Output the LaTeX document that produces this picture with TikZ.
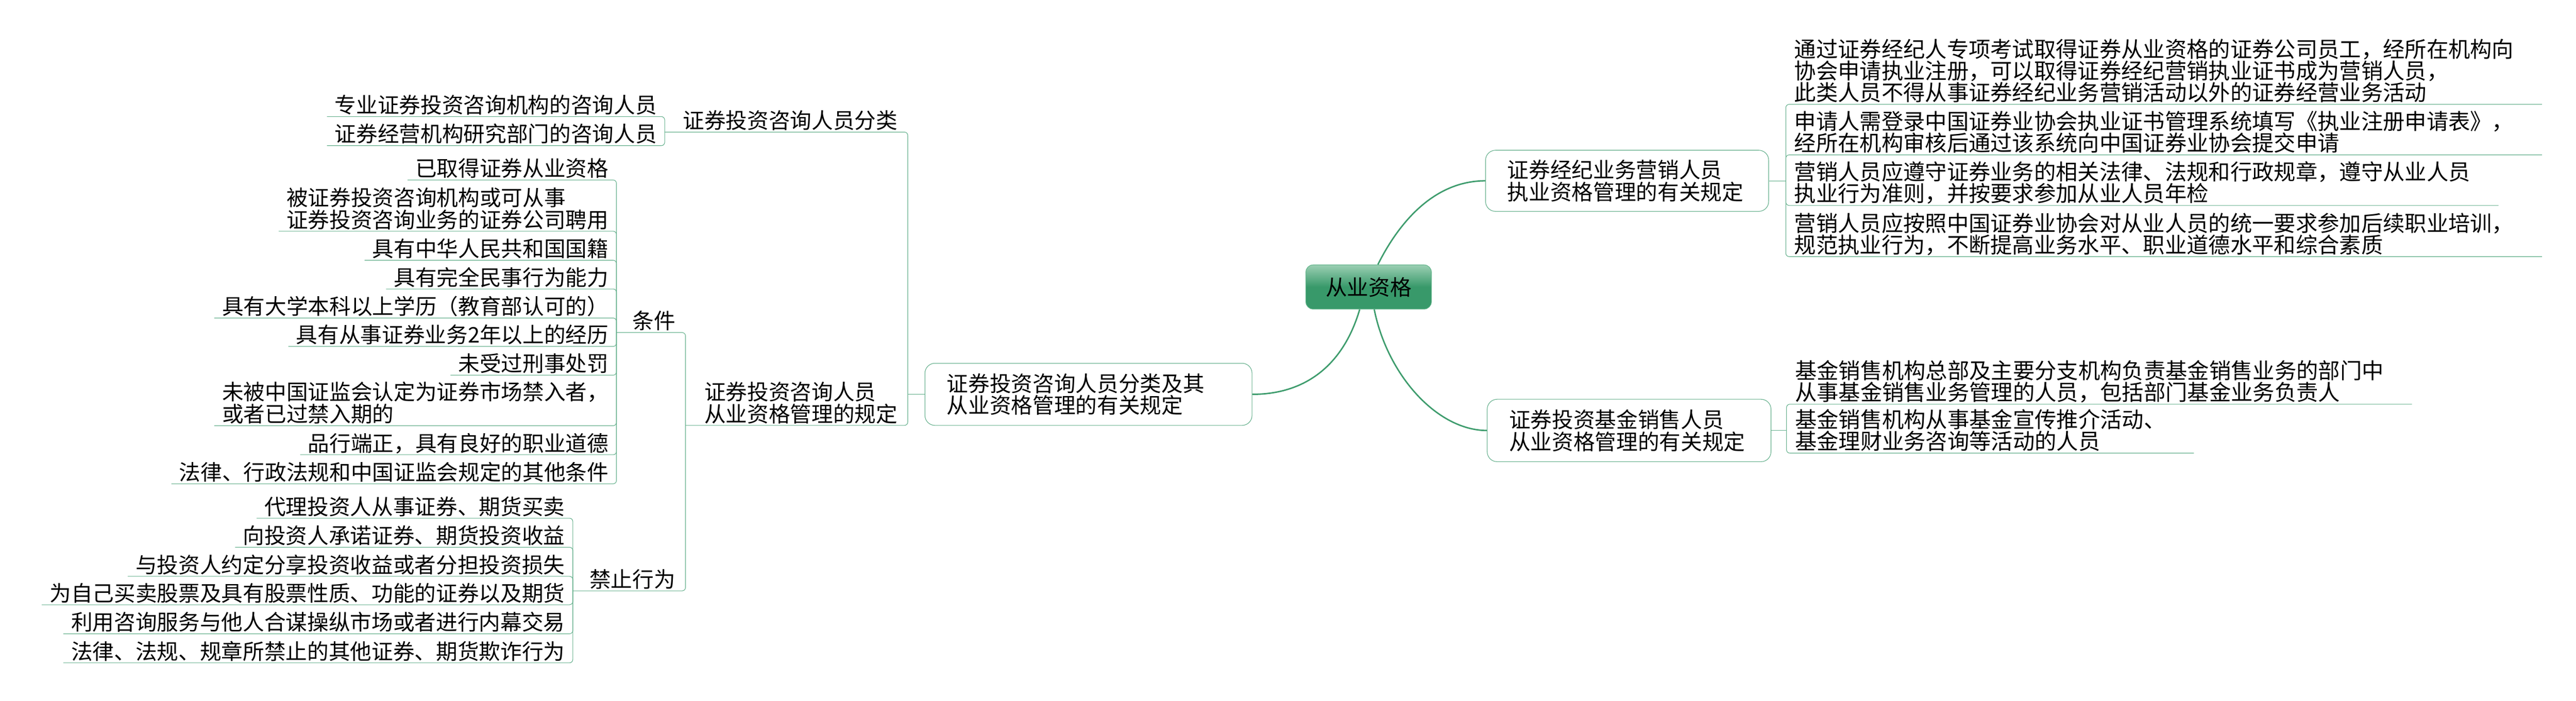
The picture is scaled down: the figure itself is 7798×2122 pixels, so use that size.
\documentclass[tikz,border=0pt]{standalone}
\usepackage{fontspec}
\newfontfamily\cjk{Noto Sans CJK SC}
\usetikzlibrary{calc}
\definecolor{rootlight}{HTML}{9BCFB3}
\definecolor{rootdark}{HTML}{38996A}
\definecolor{rootedge}{HTML}{62B48A}
\definecolor{curvegreen}{HTML}{3E9C6D}
\definecolor{linegreen}{HTML}{5EAC87}
\definecolor{boxgreen}{HTML}{5EAC87}
\begin{document}
\begin{tikzpicture}[x=0.3pt,y=-0.3pt,
  txt/.style={font=\cjk\fontsize{19.5pt}{20pt}\selectfont, text=black},
  lleaf/.style={txt, anchor=south east, align=left, inner xsep=6.9pt, inner ysep=3pt, text depth=0pt},
  lmid/.style={lleaf, inner xsep=9pt},
  rleaf/.style={txt, font=\cjk\fontsize{19.8pt}{19.8pt}\selectfont, anchor=south west, align=left, inner xsep=7.5pt, inner ysep=3pt, text depth=0pt},
  topic/.style={txt, draw=boxgreen, line width=0.5pt, rounded corners=9pt, fill=white, align=left, inner xsep=19.8pt, inner ysep=0pt},
  rootbox/.style={txt, draw=rootedge, line width=0.5pt, rounded corners=6.6pt, top color=rootlight, bottom color=rootdark, middle color=rootdark, minimum width=114pt, minimum height=40.2pt, inner sep=0pt},
  link/.style={draw=linegreen, line width=0.5pt, rounded corners=3pt},
  curve/.style={draw=curvegreen, line width=1.3pt},
]
\useasboundingbox (0,0) rectangle (7798,2122);

% root
\node[rootbox] (root) at (4143,869) {从业资格};

% main topics
\node[topic, text width=257.4pt, minimum height=56.4pt] (L1) at (3295,1194) {证券投资咨询人员分类及其\\从业资格管理的有关规定};
\node[topic, text width=217.5pt, minimum height=55.5pt] (R1) at (4925.5,547.5) {证券经纪业务营销人员\\执业资格管理的有关规定};
\node[topic, text width=218.1pt, minimum height=56.7pt] (R2) at (4931.5,1303.5) {证券投资基金销售人员\\从业资格管理的有关规定};

% curves from root
\draw[curve] ($(root.north)+(28,0)$) .. controls +(60,-120) and +(-160,0) .. (R1.west);
\draw[curve] ($(root.south)+(-27,0)$) .. controls +(-50,170) and +(160,0) .. (L1.east);
\draw[curve] ($(root.south)+(17,0)$) .. controls +(40,200) and +(-150,0) .. (R2.west);

% ---------- right top ----------
\coordinate (r1j) at (5406,547.5);
\draw[link] (R1.east) -- (r1j);
\node[rleaf] (rc1) at (5406,316) {通过证券经纪人专项考试取得证券从业资格的证券公司员工，经所在机构向\\协会申请执业注册，可以取得证券经纪营销执业证书成为营销人员，\\此类人员不得从事证券经纪业务营销活动以外的证券经营业务活动};
\node[rleaf] (rc2) at (5406,469) {申请人需登录中国证券业协会执业证书管理系统填写《执业注册申请表》，\\经所在机构审核后通过该系统向中国证券业协会提交申请};
\node[rleaf] (rc3) at (5406,622) {营销人员应遵守证券业务的相关法律、法规和行政规章，遵守从业人员\\执业行为准则，并按要求参加从业人员年检};
\node[rleaf] (rc4) at (5406,777) {营销人员应按照中国证券业协会对从业人员的统一要求参加后续职业培训，\\规范执业行为，不断提高业务水平、职业道德水平和综合素质};
\foreach \c in {rc1,rc2,rc3,rc4} {\draw[link] (r1j) |- ($(\c.south east)+(60,0)$);}

% ---------- right bottom ----------
\coordinate (r2j) at (5408,1303.5);
\draw[link] (R2.east) -- (r2j);
\node[rleaf] (rd1) at (5408,1224) {基金销售机构总部及主要分支机构负责基金销售业务的部门中\\从事基金销售业务管理的人员，包括部门基金业务负责人};
\node[rleaf] (rd2) at (5408,1372) {基金销售机构从事基金宣传推介活动、\\基金理财业务咨询等活动的人员};
\foreach \c in {rd1,rd2} {\draw[link] (r2j) |- ($(\c.south east)+(60,0)$);}

% ---------- left ----------
\coordinate (l1j) at (2748,1194);
\draw[link] (L1.west) -- (l1j);
\node[lmid] (L2a) at (2748,400) {证券投资咨询人员分类};
\node[lmid] (L2b) at (2748,1288) {证券投资咨询人员\\从业资格管理的规定};
\coordinate (l2aj) at (2012,400);
\coordinate (l2bj) at (2075,1288);
\draw[link] (l1j) |- (l2aj);
\draw[link] (l1j) |- (l2bj);

% classification leaves
\node[lleaf] (ac1) at (2012,353) {专业证券投资咨询机构的咨询人员};
\node[lleaf] (ac2) at (2012,441) {证券经营机构研究部门的咨询人员};
\foreach \c in {ac1,ac2} {\draw[link] (l2aj) |- (\c.south west);}

% conditions / prohibitions
\node[lmid] (cond) at (2075,1007) {条件};
\node[lmid] (proh) at (2075,1789) {禁止行为};
\coordinate (cj) at (1866,1007);
\coordinate (pj) at (1734,1789);
\draw[link] (l2bj) |- (cj);
\draw[link] (l2bj) |- (pj);

\node[lleaf] (cc1) at (1866,545) {已取得证券从业资格};
\node[lleaf] (cc2) at (1866,700) {被证券投资咨询机构或可从事\\证券投资咨询业务的证券公司聘用};
\node[lleaf] (cc3) at (1866,788) {具有中华人民共和国国籍};
\node[lleaf] (cc4) at (1866,875) {具有完全民事行为能力};
\node[lleaf] (cc5) at (1866,963) {具有大学本科以上学历（教育部认可的）};
\node[lleaf] (cc6) at (1866,1049) {具有从事证券业务2年以上的经历};
\node[lleaf] (cc7) at (1866,1136) {未受过刑事处罚};
\node[lleaf] (cc8) at (1866,1289) {未被中国证监会认定为证券市场禁入者，\\或者已过禁入期的};
\node[lleaf] (cc9) at (1866,1377) {品行端正，具有良好的职业道德};
\node[lleaf] (cc10) at (1866,1465) {法律、行政法规和中国证监会规定的其他条件};
\foreach \c in {cc1,cc2,cc3,cc4,cc5,cc6,cc7,cc8,cc9,cc10} {\draw[link] (cj) |- (\c.south west);}

\node[lleaf] (pc1) at (1734,1569) {代理投资人从事证券、期货买卖};
\node[lleaf] (pc2) at (1734,1657) {向投资人承诺证券、期货投资收益};
\node[lleaf] (pc3) at (1734,1745) {与投资人约定分享投资收益或者分担投资损失};
\node[lleaf] (pc4) at (1734,1831) {为自己买卖股票及具有股票性质、功能的证券以及期货};
\node[lleaf] (pc5) at (1734,1919) {利用咨询服务与他人合谋操纵市场或者进行内幕交易};
\node[lleaf] (pc6) at (1734,2007) {法律、法规、规章所禁止的其他证券、期货欺诈行为};
\foreach \c in {pc1,pc2,pc3,pc4,pc5,pc6} {\draw[link] (pj) |- (\c.south west);}
\end{tikzpicture}
\end{document}
